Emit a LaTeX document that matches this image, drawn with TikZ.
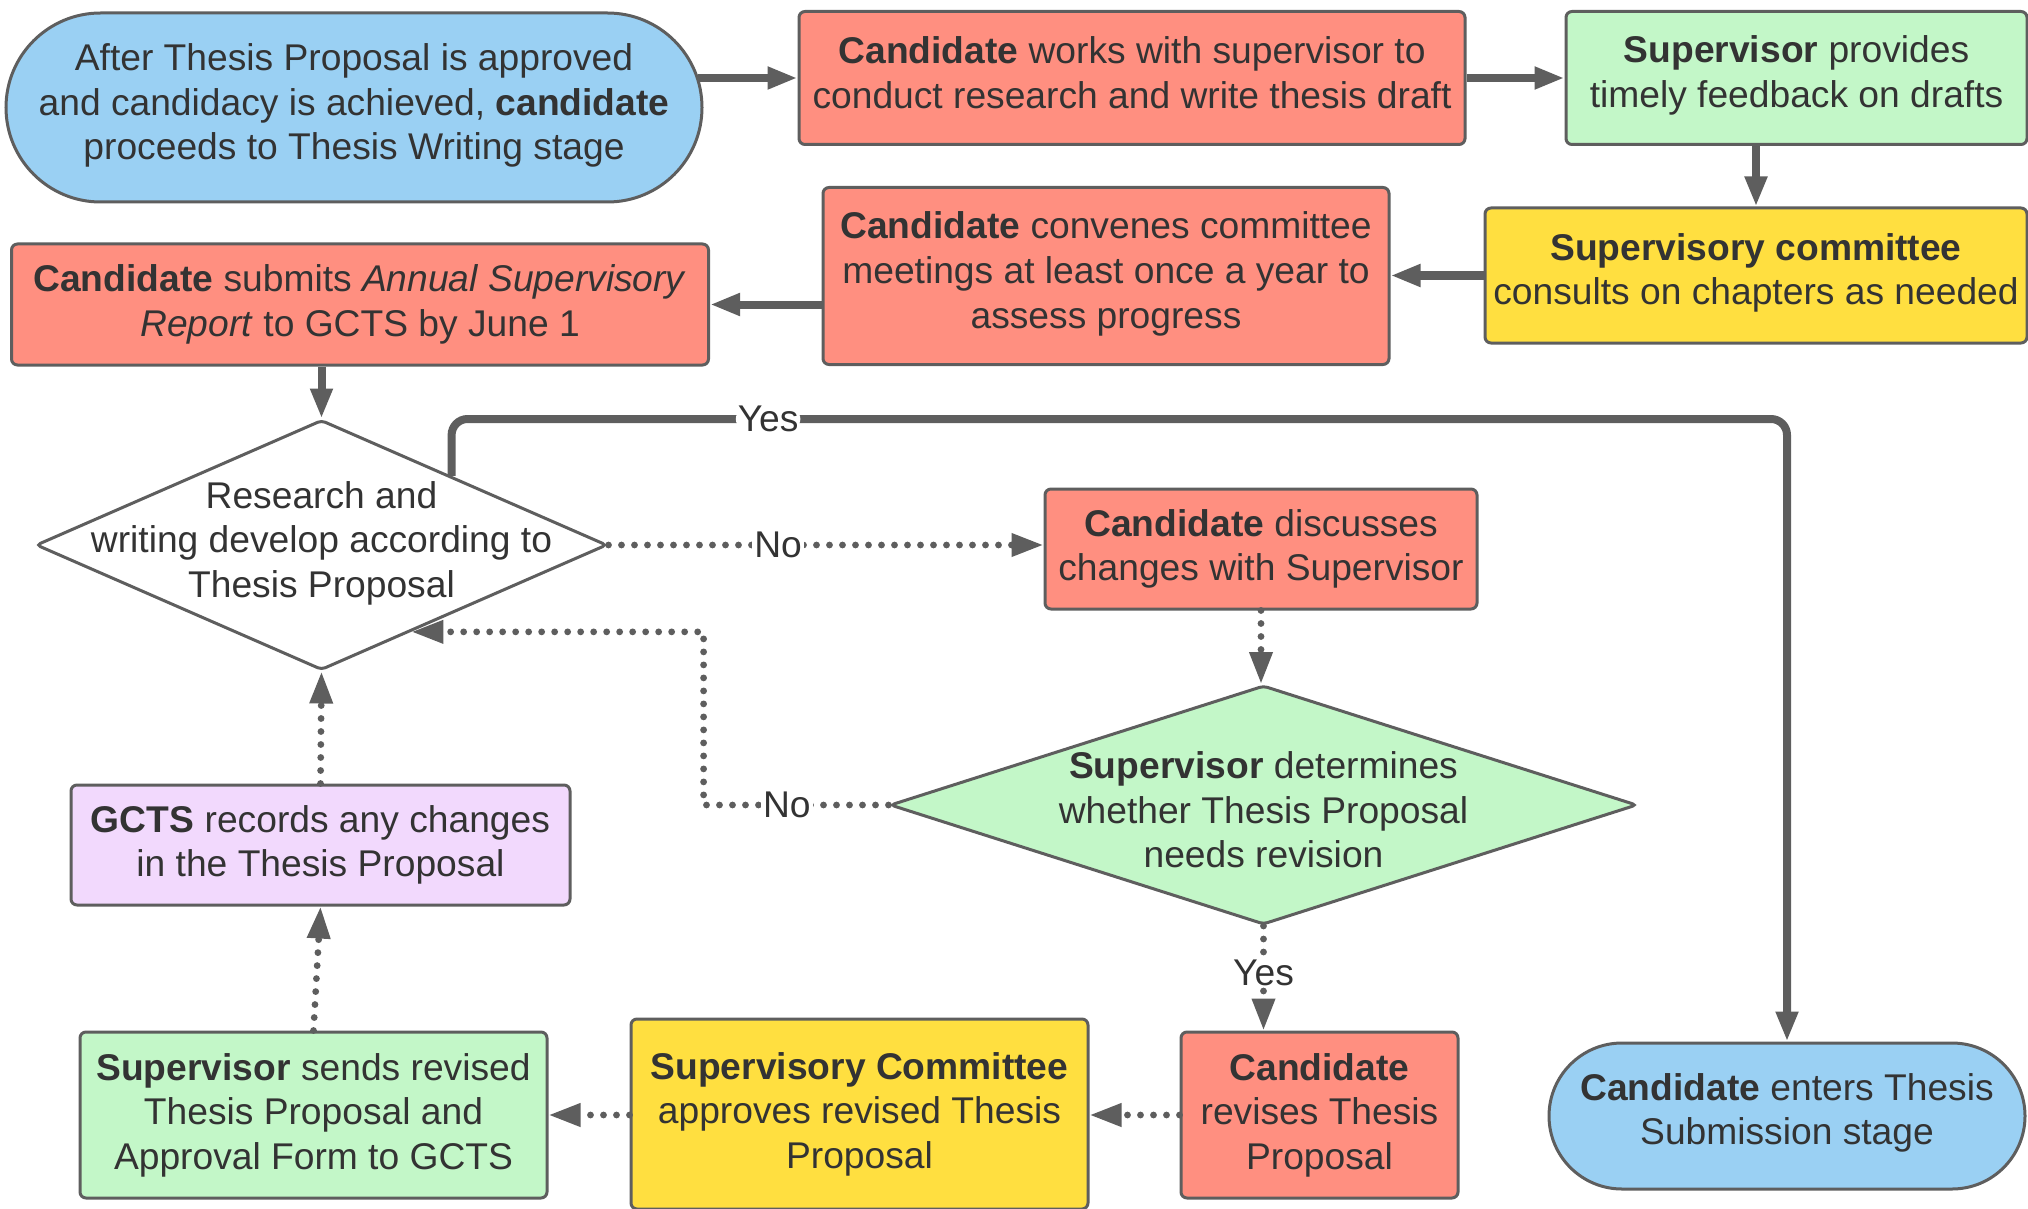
\documentclass[tikz,border=0pt]{standalone}
\usepackage{fontspec}
\setmainfont{Liberation Sans}
\usetikzlibrary{shapes.geometric,shapes.misc,arrows.meta}
\definecolor{lc}{HTML}{5E5E5E}
\definecolor{tc}{HTML}{333333}
\definecolor{cblue}{HTML}{9AD0F3}
\definecolor{cred}{HTML}{FF8F80}
\definecolor{cgreen}{HTML}{C3F7C8}
\definecolor{cyellow}{HTML}{FFDF40}
\definecolor{cpurple}{HTML}{F2D9FD}
\begin{document}
\begin{tikzpicture}[x=0.5pt,y=-0.5pt,
 every node/.style={font=\fontsize{18.6}{22.3}\selectfont, text=tc},
 box/.style={draw=lc, line width=1.5pt, rounded corners=3pt, align=center, inner sep=0pt},
 term/.style={draw=lc, line width=1.5pt, rounded rectangle, align=center, inner sep=0pt, fill=cblue},
 dia/.style={draw=lc, line width=1.5pt, diamond, inner sep=0pt, rounded corners=2pt},
 solidarrow/.style={draw=lc, line width=4pt, -{Triangle[length=15pt,width=10.5pt]}},
 dotarrow/.style={draw=lc, line width=3.4pt, line cap=round, dash pattern=on 0pt off 6.5pt, -{Triangle[length=16pt,width=11pt]}},
 lbl/.style={fill=white, inner sep=1pt},
]
\useasboundingbox (0,0) rectangle (2028,1209);

\node[term, minimum width=348pt, minimum height=94.5pt, text depth=5.9pt] (start) at (354,107.5)
  {After Thesis Proposal is approved\\and candidacy is achieved, \textbf{candidate}\\proceeds to Thesis Writing stage};
\node[box, fill=cred, minimum width=333pt, minimum height=66.5pt, text depth=5.2pt] (work) at (1132,78)
  {\textbf{Candidate} works with supervisor to\\conduct research and write thesis draft};
\node[box, fill=cgreen, minimum width=230.5pt, minimum height=66.5pt, text depth=6.5pt] (feed) at (1796.5,78)
  {\textbf{Supervisor} provides\\timely feedback on drafts};
\node[box, fill=cyellow, minimum width=271pt, minimum height=67.5pt, text depth=6.5pt] (cons) at (1756,275.5)
  {\textbf{Supervisory committee}\\consults on chapters as needed};
\node[box, fill=cred, minimum width=283pt, minimum height=88.5pt, text depth=5.9pt] (conv) at (1106,276)
  {\textbf{Candidate} convenes committee\\meetings at least once a year to\\assess progress};
\node[box, fill=cred, minimum width=348.5pt, minimum height=60.5pt] (annual) at (360,304.5)
  {\textbf{Candidate} submits \textit{Annual Supervisory}\\\textit{Report} to GCTS by June 1};
\node[dia, fill=white, minimum width=285.5pt, minimum height=125pt] (d1) at (321.5,545) {};
\node[align=center] (d1t) at (321.5,543) {Research and\\writing develop according to\\Thesis Proposal};
\node[box, fill=cred, minimum width=216pt, minimum height=60pt] (disc) at (1261,549)
  {\textbf{Candidate} discusses\\changes with Supervisor};
\node[dia, fill=cgreen, minimum width=373.5pt, minimum height=119.5pt] (d2) at (1263.5,805) {};
\node[align=center] (d2t) at (1263.5,810) {\textbf{Supervisor} determines\\whether Thesis Proposal\\needs revision};
\node[box, fill=cpurple, minimum width=249.5pt, minimum height=60pt] (gcts) at (320.5,845)
  {\textbf{GCTS} records any changes\\in the Thesis Proposal};
\node[box, fill=cgreen, minimum width=233.5pt, minimum height=83pt] (sends) at (313.5,1115)
  {\textbf{Supervisor} sends revised\\Thesis Proposal and\\Approval Form to GCTS};
\node[box, fill=cyellow, minimum width=228.5pt, minimum height=95pt] (appr) at (859.5,1114)
  {\textbf{Supervisory Committee}\\approves revised Thesis\\Proposal};
\node[box, fill=cred, minimum width=138.5pt, minimum height=83pt] (rev) at (1319.5,1115)
  {\textbf{Candidate}\\revises Thesis\\Proposal};
\node[term, minimum width=238pt, minimum height=73pt, text depth=7.1pt] (end) at (1787,1116)
  {\textbf{Candidate} enters Thesis\\Submission stage};

\coordinate (yesY) at (0,419);
\coordinate (nox) at (703.6,0);

\draw[solidarrow] ([xshift=-3pt]start.east |- work.west) -- (work.west);
\draw[solidarrow] (work.east) -- (feed.west);
\draw[solidarrow] (feed.south -| cons.north) -- (cons.north);
\draw[solidarrow] (cons.west) -- (conv.east |- cons.west);
\draw[solidarrow] (conv.west |- annual.east) -- (annual.east);
\draw[solidarrow] (d1.north |- annual.south) -- (d1.north);
\draw[solidarrow, rounded corners=8pt] (d1.28) -- (d1.28 |- yesY) -- node[lbl, pos=0.237] {Yes} (end.north |- yesY) -- (end.north);
\draw[dotarrow] (d1.east) -- node[lbl, pos=0.39] {No} (disc.west |- d1.east);
\draw[dotarrow] (disc.south) -- (disc.south |- d2.north);
\draw[dotarrow] (d2.west) -- node[lbl, pos=0.55] {No} (d2.west -| nox) -- (nox |- d1.-44) -- (d1.-44);
\draw[dotarrow] (d2.south) -- node[lbl, pos=0.445] {Yes} (d2.south |- rev.north);
\draw[dotarrow] (rev.west) -- (appr.east |- rev.west);
\draw[dotarrow] (appr.west |- sends.east) -- (sends.east);
\draw[dotarrow] (sends.north) -- (gcts.south);
\draw[dotarrow] (gcts.north) -- (d1.south);
\end{tikzpicture}
\end{document}
